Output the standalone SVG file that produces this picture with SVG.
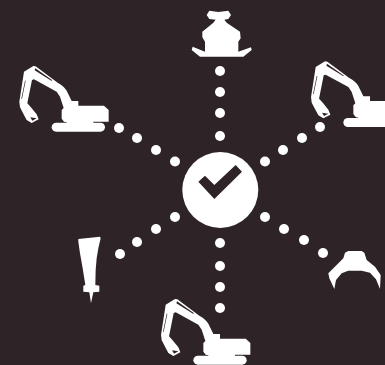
<svg xmlns="http://www.w3.org/2000/svg" width="385" height="365" viewBox="0 0 385 365">
<style>
.w{fill:#fff}
.k{fill:#2e2327}
.d{fill:#fff}
</style>
<defs>
<g id="exc">
<path class="w" d="M42,35 L70,18 L77,19 L143,68 Q162,78 170,92 L185,123 L205,123 L205,137 L282,137 L296,150 L296,185 L250,185 L250,195 L170,195 L170,187 L162,185 L155,176 L155,150 L161,144 L150,110 L140,95 L72,58 L66,60 L52,130 L62,141 L80,163 L86,178 L65,189 L50,180 L42,165 L30,142 L28,125 Z"/>
<path class="k" d="M76,25 L127,61 L124,62 L74,31 Z M45,62 L47,62 L36,116 L34,116 Z M61,172 L80,175 L67,182 Z"/>
<rect class="w" x="125" y="188" width="160" height="27" rx="13.500"/>
</g>
</defs>
<rect width="385" height="365" fill="#2e2327"/>
<g id="connectors">
<circle class="d" cx="220" cy="71" r="5"/><circle class="d" cx="220" cy="92" r="5"/><circle class="d" cx="220" cy="113" r="5"/><circle class="d" cx="220" cy="136" r="5"/>
<circle class="d" cx="119" cy="128" r="5"/><circle class="d" cx="137" cy="138" r="5"/><circle class="d" cx="156" cy="150" r="5"/><circle class="d" cx="175" cy="161.500" r="5"/>
<circle class="d" cx="320" cy="127" r="5"/><circle class="d" cx="302" cy="138" r="5"/><circle class="d" cx="283" cy="150" r="5"/><circle class="d" cx="265" cy="161.500" r="5"/>
<circle class="d" cx="120" cy="254" r="5"/><circle class="d" cx="137" cy="242" r="5"/><circle class="d" cx="156" cy="229" r="5"/><circle class="d" cx="175" cy="217" r="5"/>
<circle class="d" cx="265" cy="217" r="5"/><circle class="d" cx="284" cy="229" r="5"/><circle class="d" cx="304" cy="240" r="5"/><circle class="d" cx="323" cy="253" r="5"/>
<circle class="d" cx="220" cy="243" r="5"/><circle class="d" cx="220" cy="266" r="5"/><circle class="d" cx="220" cy="287" r="5"/><circle class="d" cx="220" cy="308" r="5"/>
</g>
<g id="center">
<circle class="w" cx="220.300" cy="190" r="38"/>
<path class="k" transform="translate(170,140) scale(.3333)" d="M85,125 L105,107 L133,135 L197,75 L216,95 L133,177 Z"/>
</g>
<g id="top-machine">
<path class="w" transform="translate(170,0) scale(.3333)" d="M110,45 L118,32 L145,36 L175,32 L183,45 L175,57 L163,59 L170,68 L210,95 L212,115 L205,125 L205,155 L243,142 L245,150 L220,170 L90,170 L65,150 L68,140 L105,155 L105,125 L97,112 L97,95 L130,68 L137,59 L118,57 Z"/>
</g>
<g id="excavator-left"><use href="#exc" transform="translate(10,60) scale(.3333)"/></g>
<g id="excavator-right"><use href="#exc" transform="translate(301.700,55.300) scale(.3333)"/></g>
<g id="excavator-bottom"><use href="#exc" transform="translate(151.700,293) scale(.3333)"/></g>
<g id="hammer">
<path class="w" transform="translate(60,225) scale(.3333)" d="M55,42 L120,35 L122,40 L115,70 L110,100 L107,135 L106,180 L118,182 L118,200 L100,202 L93,235 L88,202 L70,200 L70,182 L76,180 L68,130 L60,85 L55,50 Z"/>
</g>
<g id="grapple">
<path class="w" transform="translate(320,240) scale(.3333)" d="M75,38 L85,33 L125,33 L133,38 L140,60 L165,80 L182,105 L180,147 L168,118 L150,98 L125,92 L85,92 L65,100 L48,120 L43,147 L28,115 L25,100 L50,75 L70,55 Z"/>
</g>
</svg>
